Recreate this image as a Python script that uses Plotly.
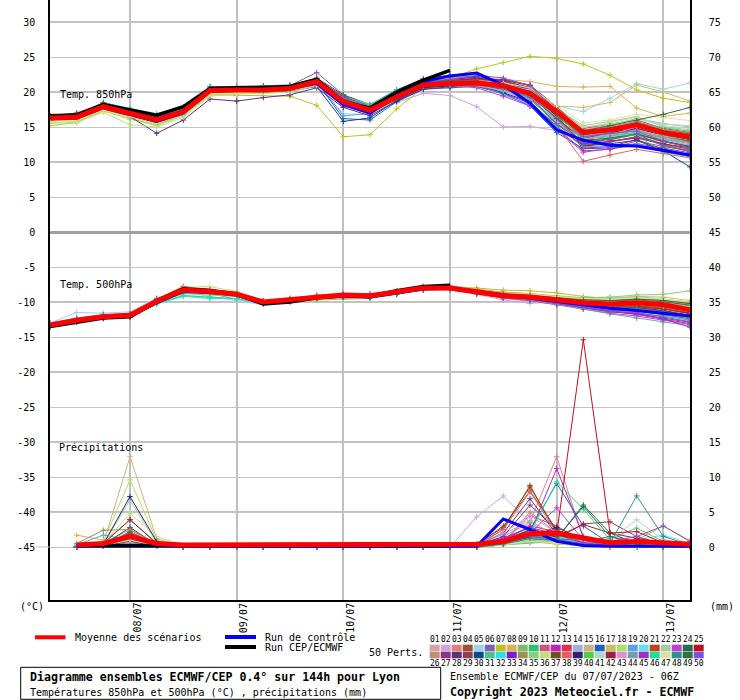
import plotly.graph_objects as go

# ---------------- data ----------------
HOURS = [0, 6, 12, 18, 24, 30, 36, 42, 48, 54, 60, 66, 72, 78, 84, 90, 96, 102, 108, 114, 120, 126, 132, 138, 144]
PRECIP_HOURS = [6, 12, 18, 24, 30, 36, 42, 48, 54, 60, 66, 72, 78, 84, 90, 96, 102, 108, 114, 120, 126, 132, 138, 144]
HRES_HOURS = [0, 6, 12, 18, 24, 30, 36, 42, 48, 54, 60, 66, 72, 78, 84, 90]
HRES_PRECIP_HOURS = [6, 12, 18, 24, 30, 36, 42, 48, 54, 60, 66, 72, 78, 84, 90]
DATE_TICKS = [18, 42, 66, 90, 114, 138]
DATE_LABELS = ["08/07", "09/07", "10/07", "11/07", "12/07", "13/07"]
LEFT_TICKS = [-45, -40, -35, -30, -25, -20, -15, -10, -5, 0, 5, 10, 15, 20, 25, 30]
RIGHT_TICKS = [0, 5, 10, 15, 20, 25, 30, 35, 40, 45, 50, 55, 60, 65, 70, 75]
THICK_GRID = [-40, -30, -20, -10, 10, 20, 30]

T850_MEAN = [16.3, 16.4, 17.9, 17.0, 16.0, 17.2, 20.2, 20.3, 20.3, 20.5, 21.5, 18.6, 17.4, 19.3, 21.0, 21.2,
             21.3, 20.9, 19.8, 17.2, 14.2, 14.6, 15.3, 14.2, 13.6]
T850_CONTROL = [16.2, 16.3, 17.8, 16.8, 15.8, 17.0, 20.1, 20.2, 20.3, 20.5, 21.2, 18.2, 17.0, 19.5, 21.5, 22.3,
                22.7, 21.0, 18.4, 14.6, 13.1, 12.4, 12.3, 11.7, 11.0]
T850_HRES = [16.6, 16.7, 18.2, 17.5, 16.7, 17.9, 20.5, 20.6, 20.6, 20.8, 21.8, 18.6, 17.7, 20.0, 21.7, 23.1]

T500_MEAN = [-13.3, -12.6, -12.1, -11.9, -9.9, -8.3, -8.5, -8.9, -10.0, -9.7, -9.3, -9.0, -9.1, -8.6, -8.0, -8.0,
             -8.6, -9.1, -9.3, -9.7, -10.1, -10.3, -10.1, -10.4, -11.1]
T500_CONTROL = [-13.3, -12.7, -12.2, -12.0, -10.1, -8.5, -8.6, -9.0, -10.1, -9.8, -9.4, -9.2, -9.3, -8.7, -8.1,
                -8.0, -8.5, -9.0, -9.4, -10.0, -10.5, -10.9, -11.2, -11.6, -12.0]
T500_HRES = [-13.5, -12.9, -12.3, -12.1, -10.0, -8.1, -8.4, -8.9, -10.3, -10.0, -9.4, -9.0, -9.2, -8.4, -7.8, -7.6]

PRECIP_MEAN = [0.3, 0.5, 1.5, 0.5, 0.3, 0.3, 0.3, 0.3, 0.3, 0.3, 0.3, 0.3, 0.3, 0.3, 0.3, 0.4, 0.8, 1.9, 2.0,
               1.3, 0.6, 0.8, 0.6, 0.4]
PRECIP_CONTROL = [0.1, 0.1, 0.1, 0.1, 0.1, 0.1, 0.1, 0.1, 0.1, 0.1, 0.1, 0.1, 0.1, 0.1, 0.1, 0.1, 4.0, 2.5, 0.8,
                  0.2, 0.1, 0.1, 0.1, 0.1]
PRECIP_HRES = [0.2, 0.2, 0.3, 0.2, 0.2, 0.2, 0.2, 0.2, 0.2, 0.2, 0.2, 0.2, 0.2, 0.2, 0.2]

MEMBER_COLORS = ['#d4a0a8', '#d0a0e0', '#e08080', '#a05030', '#a0d0f0', '#8060b0', '#c0c020', '#e0b050',
                 '#80b870', '#30c070', '#d05080', '#c020c0', '#e03050', '#a0b0e0', '#d0b080', '#2060c0',
                 '#c8c060', '#b0e060', '#60a0e0', '#60e0f0', '#c04020', '#a0d0a0', '#c040d0', '#207050',
                 '#c01020',
                 '#c09070', '#903080', '#603080', '#904050', '#104890', '#50c090', '#30e0e0', '#7020d0',
                 '#a09050', '#80d080', '#c0e080', '#705020', '#e06060', '#302070', '#50d040', '#b0d8c8',
                 '#a02040', '#e090d0', '#70a0b0', '#a030c0', '#20e090', '#e0e0a0', '#309090', '#307040',
                 '#8050e0']

T850_MEMBERS = [
    [16.0, 16.2, 17.6, 16.6, 15.7, 17.0, 20.0, 20.1, 20.0, 20.4, 21.2, 18.9, 17.8, 19.6, 21.3, 21.6, 21.0, 20.2, 18.6, 15.0, 12.2, 12.8, 13.5, 12.9, 12.3],
    [16.5, 16.6, 18.0, 17.1, 16.3, 17.5, 20.4, 20.5, 20.2, 20.6, 21.0, 18.0, 16.9, 18.5, 19.8, 19.5, 17.9, 15.0, 15.1, 14.5, 12.6, 13.1, 14.0, 13.2, 12.8],
    [16.2, 16.4, 18.1, 17.3, 16.4, 17.6, 20.6, 20.4, 20.5, 20.7, 21.8, 19.2, 18.0, 19.9, 21.5, 22.0, 21.8, 21.2, 19.6, 16.2, 13.5, 14.0, 14.5, 13.3, 12.6],
    [16.4, 16.9, 18.2, 17.2, 15.9, 17.1, 20.1, 20.2, 20.4, 20.3, 21.4, 18.4, 17.2, 19.0, 20.8, 21.0, 21.4, 21.0, 20.2, 17.0, 13.2, 13.8, 14.2, 13.0, 12.1],
    [16.1, 16.3, 17.7, 16.9, 16.1, 17.3, 20.3, 20.0, 19.8, 20.1, 21.0, 16.9, 16.8, 18.8, 20.5, 20.8, 21.2, 20.0, 19.0, 18.0, 17.2, 19.1, 21.2, 20.4, 21.3],
    [16.6, 16.8, 18.0, 17.1, 16.4, 17.4, 20.8, 20.6, 20.5, 20.9, 22.8, 19.6, 17.6, 19.4, 21.2, 21.5, 22.0, 21.6, 20.5, 17.5, 14.0, 14.8, 15.2, 14.0, 13.4],
    [15.2, 15.6, 17.3, 16.2, 15.3, 16.8, 19.6, 19.5, 19.5, 19.4, 18.1, 13.6, 13.9, 17.6, 20.6, 22.0, 23.3, 24.2, 25.1, 24.8, 24.0, 22.4, 20.3, 19.1, 18.5],
    [16.0, 16.1, 17.5, 16.8, 15.9, 17.0, 20.0, 20.3, 20.3, 20.6, 21.6, 18.8, 17.5, 19.2, 21.0, 21.4, 21.6, 21.8, 21.5, 20.8, 20.7, 20.8, 17.7, 16.5, 17.0],
    [16.5, 16.7, 18.3, 17.5, 16.8, 17.8, 20.4, 20.5, 20.8, 20.9, 21.9, 19.3, 18.0, 20.0, 21.6, 21.8, 21.5, 20.6, 19.2, 15.8, 12.8, 13.5, 15.8, 14.5, 14.1],
    [16.3, 16.5, 18.1, 17.3, 16.5, 17.6, 20.5, 20.6, 20.7, 20.6, 21.7, 19.0, 17.7, 19.6, 21.2, 21.4, 21.0, 20.4, 19.0, 15.5, 13.0, 13.2, 13.9, 12.5, 11.6],
    [16.2, 16.3, 17.8, 16.9, 15.8, 17.0, 20.2, 20.2, 20.1, 20.3, 21.2, 18.3, 17.1, 19.0, 20.9, 21.3, 21.7, 21.3, 20.4, 16.8, 13.5, 14.2, 14.6, 13.6, 12.9],
    [16.4, 16.5, 17.9, 17.0, 16.0, 17.3, 20.2, 20.4, 20.3, 20.5, 21.3, 18.5, 17.3, 19.4, 21.1, 21.2, 20.8, 19.8, 18.4, 14.8, 11.6, 11.8, 12.6, 12.0, 11.3],
    [16.1, 16.2, 17.7, 16.7, 15.6, 16.9, 19.9, 20.1, 20.2, 20.4, 21.4, 18.7, 17.6, 19.3, 21.0, 21.5, 21.9, 21.4, 20.7, 17.8, 14.8, 15.4, 16.0, 14.8, 14.2],
    [16.6, 16.7, 18.4, 17.6, 16.6, 17.7, 20.6, 20.4, 20.0, 20.2, 21.0, 18.2, 17.0, 19.1, 20.7, 21.0, 21.2, 20.8, 19.9, 16.6, 14.5, 15.3, 16.2, 15.5, 15.0],
    [16.0, 16.2, 17.6, 16.4, 15.5, 16.8, 19.8, 20.0, 20.1, 20.2, 21.1, 18.6, 17.4, 19.5, 21.0, 21.0, 21.2, 21.1, 20.2, 17.4, 14.2, 14.5, 15.0, 14.2, 13.9],
    [16.3, 16.4, 17.9, 17.0, 16.2, 17.3, 20.3, 20.5, 20.4, 20.6, 21.5, 16.2, 16.0, 18.6, 20.4, 20.6, 20.8, 19.8, 18.0, 14.2, 11.9, 12.0, 12.3, 11.9, 11.0],
    [16.2, 16.4, 17.8, 16.9, 15.9, 17.1, 20.1, 20.2, 20.2, 20.4, 21.2, 18.6, 17.4, 19.4, 21.0, 21.3, 21.5, 21.2, 20.3, 18.0, 17.8, 18.5, 21.0, 20.0, 18.7],
    [15.6, 15.8, 17.4, 16.1, 15.2, 16.6, 19.5, 19.8, 19.9, 20.1, 21.0, 18.5, 17.5, 19.6, 21.2, 21.6, 21.4, 20.5, 19.0, 15.4, 12.9, 13.4, 14.1, 13.1, 12.4],
    [16.4, 16.6, 18.0, 17.2, 16.3, 17.4, 20.4, 20.3, 20.2, 20.5, 21.6, 16.6, 16.9, 19.8, 21.4, 21.5, 21.1, 19.6, 18.2, 15.2, 13.6, 13.5, 14.0, 13.6, 12.8],
    [16.3, 16.5, 18.2, 17.4, 16.7, 17.6, 20.5, 20.6, 20.5, 20.8, 21.7, 19.1, 18.0, 19.5, 21.0, 21.2, 21.0, 20.1, 19.4, 16.4, 13.8, 14.4, 15.2, 14.2, 13.8],
    [16.5, 16.6, 18.1, 17.1, 16.0, 17.2, 20.3, 20.4, 20.6, 20.7, 21.8, 19.4, 18.1, 20.0, 21.8, 22.2, 22.0, 21.2, 19.8, 16.0, 12.4, 12.9, 13.6, 12.6, 11.8],
    [16.1, 16.3, 17.8, 17.0, 16.2, 17.3, 20.2, 20.1, 20.0, 20.3, 21.2, 18.3, 17.0, 19.0, 20.8, 21.1, 21.3, 21.0, 20.1, 17.6, 15.2, 15.8, 16.5, 15.0, 14.6],
    [16.4, 16.6, 18.0, 17.2, 16.2, 17.3, 20.2, 20.3, 20.4, 20.6, 21.4, 18.6, 17.3, 19.2, 20.9, 21.0, 20.6, 19.4, 18.0, 14.6, 11.4, 11.9, 13.0, 12.2, 11.7],
    [16.5, 16.7, 18.5, 17.6, 16.7, 17.8, 20.7, 20.8, 20.9, 21.0, 22.0, 19.6, 18.2, 20.3, 21.9, 22.4, 22.2, 21.6, 20.6, 17.0, 13.6, 14.0, 14.8, 13.8, 13.0],
    [16.2, 16.3, 17.7, 16.8, 15.8, 17.1, 20.1, 20.2, 20.3, 20.4, 21.3, 18.4, 17.2, 19.1, 20.8, 21.2, 21.4, 21.0, 19.8, 16.3, 12.2, 13.0, 13.4, 12.6, 12.0],
    [16.4, 16.5, 17.9, 17.1, 16.1, 17.2, 20.2, 20.3, 20.5, 20.8, 21.6, 18.8, 17.6, 19.5, 21.1, 21.3, 21.2, 20.7, 19.5, 16.1, 13.4, 13.9, 14.5, 13.4, 12.8],
    [16.3, 16.4, 18.0, 17.0, 15.9, 17.0, 20.0, 20.1, 20.2, 20.5, 21.5, 18.2, 16.9, 19.0, 20.6, 20.9, 21.0, 20.3, 19.0, 15.6, 12.0, 12.2, 13.2, 11.8, 10.9],
    [16.6, 16.8, 17.8, 16.5, 14.1, 16.0, 19.0, 18.7, 19.2, 19.6, 20.6, 17.8, 16.6, 18.7, 20.4, 20.8, 21.1, 20.6, 19.7, 16.7, 13.9, 14.6, 15.1, 14.0, 13.4],
    [16.2, 16.3, 17.8, 17.0, 16.1, 17.2, 20.3, 20.4, 20.5, 20.6, 21.8, 19.0, 17.8, 19.7, 21.4, 21.6, 21.9, 21.8, 21.0, 17.9, 14.3, 14.9, 15.6, 14.6, 14.0],
    [16.0, 16.1, 17.5, 16.6, 15.6, 16.9, 20.0, 20.1, 20.0, 20.1, 20.8, 15.8, 16.3, 18.8, 20.6, 20.9, 21.0, 19.9, 18.6, 15.1, 12.3, 12.6, 13.1, 11.6, 9.3],
    [16.3, 16.5, 18.1, 17.4, 16.6, 17.5, 20.4, 20.5, 20.4, 20.6, 21.6, 19.0, 17.7, 19.5, 21.1, 21.3, 21.2, 20.8, 19.8, 16.9, 14.1, 14.9, 15.7, 14.9, 14.4],
    [16.5, 16.7, 18.4, 17.7, 16.9, 17.9, 20.6, 20.7, 20.6, 20.8, 21.6, 19.3, 18.2, 20.2, 21.6, 21.7, 21.4, 20.6, 19.2, 15.9, 13.3, 13.7, 14.2, 13.2, 12.4],
    [16.3, 16.4, 17.9, 17.1, 16.2, 17.4, 20.3, 20.4, 20.3, 20.4, 21.4, 18.6, 17.3, 19.3, 21.2, 21.8, 22.1, 21.5, 20.3, 16.5, 12.6, 13.3, 14.0, 13.0, 12.2],
    [16.1, 16.4, 17.8, 16.7, 15.6, 16.8, 19.9, 20.0, 20.2, 20.3, 21.1, 18.5, 17.4, 19.4, 20.9, 21.1, 21.3, 20.9, 19.9, 17.1, 14.6, 15.1, 15.8, 14.6, 14.2],
    [16.2, 16.4, 17.9, 17.0, 16.0, 17.2, 20.2, 20.3, 20.4, 20.6, 21.5, 18.7, 17.5, 19.4, 21.0, 21.1, 20.9, 20.2, 19.1, 15.7, 12.9, 13.6, 14.6, 13.7, 13.2],
    [15.5, 15.7, 17.1, 15.3, 15.0, 16.4, 19.4, 19.7, 19.8, 20.0, 20.9, 18.4, 17.2, 19.2, 20.8, 21.0, 21.2, 20.9, 20.0, 17.2, 14.9, 15.6, 16.4, 15.2, 14.8],
    [16.6, 17.0, 18.4, 17.3, 16.1, 17.3, 20.3, 20.3, 20.2, 20.4, 21.4, 18.9, 17.7, 19.8, 21.3, 21.3, 21.0, 20.4, 19.4, 16.3, 13.1, 13.4, 14.0, 12.9, 12.2],
    [16.4, 16.6, 18.0, 17.1, 16.1, 17.4, 20.4, 20.5, 20.5, 20.7, 21.7, 19.2, 17.9, 19.9, 21.5, 21.8, 21.6, 20.7, 19.3, 15.3, 10.1, 11.0, 11.8, 11.2, 10.6],
    [16.2, 16.3, 17.7, 16.8, 15.7, 17.0, 20.1, 20.2, 20.2, 20.4, 21.2, 18.3, 17.1, 19.0, 20.7, 21.0, 21.2, 20.8, 19.7, 16.6, 13.6, 14.2, 14.8, 13.9, 13.5],
    [16.3, 16.6, 18.1, 17.3, 16.4, 17.5, 20.4, 20.5, 20.6, 20.7, 21.6, 19.0, 17.8, 19.7, 21.3, 21.5, 21.3, 20.6, 19.6, 16.4, 13.8, 13.9, 13.8, 11.4, 10.8],
    [16.4, 16.5, 18.0, 17.2, 16.3, 17.4, 20.3, 20.4, 20.3, 20.5, 21.4, 18.7, 17.4, 19.3, 20.9, 21.1, 21.2, 20.9, 20.3, 17.4, 15.0, 15.4, 16.0, 15.4, 15.2],
    [16.5, 16.7, 18.2, 17.4, 16.4, 17.5, 20.4, 20.5, 20.6, 20.7, 21.9, 19.3, 17.9, 19.8, 21.4, 21.7, 21.9, 21.7, 20.9, 17.4, 13.3, 14.3, 14.8, 13.9, 13.2],
    [16.2, 16.4, 17.9, 17.0, 16.0, 17.1, 20.1, 20.3, 20.2, 20.4, 21.3, 18.6, 17.5, 19.4, 21.0, 21.2, 21.0, 20.2, 19.0, 15.7, 13.3, 13.9, 15.0, 13.9, 13.5],
    [16.1, 16.3, 17.7, 16.8, 15.8, 17.0, 20.0, 20.1, 20.2, 20.4, 21.3, 18.5, 17.4, 19.2, 20.8, 21.1, 21.3, 20.8, 19.6, 15.0, 12.2, 12.3, 12.6, 11.6, 10.7],
    [16.4, 16.5, 18.0, 17.1, 16.2, 17.4, 20.3, 20.4, 20.4, 20.6, 21.5, 18.7, 17.5, 19.5, 21.2, 21.4, 21.3, 20.7, 19.5, 16.2, 12.6, 12.9, 13.6, 12.4, 11.5],
    [16.3, 16.5, 18.2, 17.4, 16.6, 17.6, 20.5, 20.6, 20.6, 20.8, 21.7, 19.2, 17.9, 19.8, 21.4, 21.5, 21.4, 20.8, 19.8, 16.8, 13.5, 14.3, 15.3, 14.4, 13.7],
    [15.8, 16.0, 17.4, 16.5, 15.5, 16.9, 19.8, 19.9, 20.0, 20.2, 21.0, 18.4, 17.3, 19.3, 21.0, 21.4, 21.6, 21.3, 20.6, 18.0, 15.6, 16.0, 16.8, 16.3, 15.9],
    [16.3, 16.4, 17.9, 17.0, 16.0, 17.2, 20.2, 20.3, 20.2, 20.4, 21.3, 18.5, 17.3, 19.2, 20.8, 21.0, 21.1, 20.5, 19.2, 15.5, 12.8, 13.3, 14.0, 12.3, 11.5],
    [16.5, 16.6, 18.2, 17.2, 16.2, 17.4, 20.4, 20.5, 20.5, 20.6, 21.6, 19.0, 17.7, 19.6, 21.3, 21.6, 21.6, 21.0, 20.0, 16.8, 14.4, 15.2, 15.9, 16.8, 17.8],
    [16.4, 16.6, 18.0, 17.2, 16.3, 17.4, 20.4, 20.5, 20.7, 20.8, 21.9, 19.2, 17.8, 19.7, 21.4, 21.8, 22.4, 22.0, 20.9, 17.3, 13.6, 14.1, 14.4, 13.0, 12.0],
]

T500_MEMBERS = [
    [-13.1, -12.4, -12.0, -11.7, -9.8, -8.2, -8.4, -8.8, -9.9, -9.6, -9.2, -8.9, -9.0, -8.5, -7.9, -8.1, -8.8, -9.5, -9.9, -10.4, -10.8, -11.2, -11.0, -11.6, -12.2],
    [-13.5, -12.8, -12.3, -12.1, -10.2, -8.6, -8.7, -9.1, -10.2, -9.9, -9.5, -9.1, -9.2, -8.7, -8.2, -8.3, -8.9, -9.7, -10.2, -10.0, -10.3, -10.9, -11.4, -11.8, -12.6],
    [-13.2, -12.5, -12.1, -11.8, -9.7, -8.0, -8.3, -8.7, -9.8, -9.5, -9.0, -8.8, -8.9, -8.4, -7.8, -7.7, -8.2, -8.6, -8.8, -9.2, -9.6, -9.8, -9.7, -10.0, -10.6],
    [-13.4, -12.7, -12.2, -12.0, -10.0, -8.4, -8.6, -9.0, -10.1, -9.8, -9.4, -9.1, -9.2, -8.7, -8.1, -8.0, -8.5, -9.0, -9.2, -9.6, -10.0, -10.2, -10.0, -10.4, -11.0],
    [-13.0, -11.5, -11.6, -11.4, -9.4, -8.6, -9.2, -9.8, -10.4, -10.0, -9.6, -9.2, -9.3, -8.8, -8.3, -8.2, -8.7, -9.2, -9.4, -9.4, -9.5, -9.4, -9.2, -9.6, -10.2],
    [-13.3, -12.6, -12.0, -11.9, -9.9, -8.3, -8.5, -8.9, -10.0, -9.7, -9.3, -9.0, -9.1, -8.6, -8.0, -8.0, -8.6, -9.1, -9.3, -9.8, -10.2, -10.6, -10.8, -11.3, -11.9],
    [-13.6, -12.9, -12.4, -12.2, -10.1, -8.5, -8.7, -9.2, -10.3, -10.0, -9.7, -9.6, -9.5, -8.9, -8.2, -7.9, -8.0, -8.3, -8.4, -8.7, -9.2, -9.5, -9.4, -9.6, -10.0],
    [-13.2, -12.5, -12.1, -11.9, -9.9, -8.3, -8.5, -8.9, -10.0, -9.7, -9.3, -9.0, -9.0, -8.5, -7.9, -7.8, -8.3, -8.6, -8.8, -9.1, -9.4, -9.7, -9.9, -10.3, -10.8],
    [-13.3, -12.6, -12.2, -12.0, -9.8, -8.1, -8.3, -8.7, -9.9, -9.6, -9.2, -8.9, -9.1, -8.6, -8.0, -8.0, -8.7, -9.2, -9.6, -10.0, -10.4, -10.5, -10.3, -10.2, -10.6],
    [-13.4, -12.6, -12.1, -11.8, -9.9, -8.2, -8.4, -8.8, -9.9, -9.6, -9.3, -9.1, -9.3, -8.8, -8.2, -8.2, -8.8, -9.4, -9.8, -10.3, -10.9, -11.4, -11.6, -12.0, -12.6],
    [-13.2, -12.5, -12.0, -11.8, -9.8, -8.3, -8.5, -9.0, -10.1, -9.8, -9.3, -8.9, -9.0, -8.5, -7.9, -7.9, -8.4, -8.9, -9.1, -9.5, -9.9, -10.1, -9.9, -10.2, -10.8],
    [-13.3, -12.7, -12.2, -12.0, -10.0, -8.4, -8.6, -9.0, -10.0, -9.7, -9.4, -9.1, -9.2, -8.7, -8.1, -8.1, -8.7, -9.3, -9.6, -10.2, -10.7, -11.3, -11.8, -12.5, -13.1],
    [-13.1, -12.4, -11.9, -11.7, -9.6, -8.0, -8.2, -8.7, -9.9, -9.6, -9.2, -8.9, -8.9, -8.4, -7.8, -7.8, -8.3, -8.8, -9.0, -9.4, -9.8, -10.0, -9.8, -10.0, -10.5],
    [-13.4, -12.7, -12.2, -12.0, -10.1, -8.5, -8.7, -9.0, -10.1, -9.8, -9.4, -9.0, -9.1, -8.6, -8.0, -8.1, -8.6, -9.1, -9.3, -9.6, -10.0, -10.2, -10.1, -10.5, -11.2],
    [-13.5, -12.8, -12.3, -12.1, -10.1, -8.4, -8.5, -8.9, -10.0, -9.7, -9.3, -9.0, -9.1, -8.6, -8.0, -8.0, -8.5, -8.9, -9.1, -9.5, -9.8, -10.0, -9.8, -10.1, -10.7],
    [-13.2, -12.5, -12.0, -11.8, -9.8, -8.2, -8.5, -9.0, -10.1, -9.8, -9.5, -9.3, -9.4, -8.9, -8.3, -8.2, -8.8, -9.4, -9.7, -10.3, -10.8, -11.2, -11.3, -11.8, -12.4],
    [-13.3, -12.6, -12.1, -11.9, -9.9, -8.3, -8.5, -8.9, -10.0, -9.7, -9.3, -9.0, -9.1, -8.6, -8.0, -8.0, -8.5, -8.9, -9.0, -9.3, -9.5, -9.6, -9.2, -9.3, -9.8],
    [-13.5, -12.7, -12.2, -12.1, -10.2, -8.6, -8.4, -8.8, -9.9, -9.7, -9.3, -9.0, -9.1, -8.5, -7.9, -8.0, -8.6, -9.1, -9.4, -9.8, -10.2, -10.4, -10.3, -10.7, -11.4],
    [-13.0, -12.3, -11.8, -11.6, -9.6, -8.4, -8.8, -9.6, -10.2, -9.9, -9.4, -9.1, -9.1, -8.6, -8.1, -8.1, -8.7, -9.2, -9.4, -9.9, -10.3, -10.6, -10.5, -10.8, -11.5],
    [-13.4, -12.7, -12.2, -12.0, -10.2, -9.0, -9.4, -9.6, -10.2, -9.8, -9.4, -9.1, -9.2, -8.7, -8.1, -8.1, -8.6, -9.1, -9.3, -9.7, -10.1, -10.3, -10.1, -10.4, -11.1],
    [-13.2, -12.5, -12.0, -11.7, -9.7, -8.0, -8.2, -8.6, -9.8, -9.5, -9.1, -8.8, -8.9, -8.4, -7.8, -7.8, -8.4, -8.9, -9.2, -9.7, -10.2, -10.5, -10.5, -10.9, -11.6],
    [-13.3, -12.6, -12.1, -11.9, -9.9, -8.3, -8.5, -8.9, -10.0, -9.7, -9.3, -9.0, -9.1, -8.6, -8.0, -8.0, -8.6, -9.0, -9.1, -9.4, -9.7, -9.8, -9.5, -9.7, -10.2],
    [-13.4, -12.7, -12.2, -12.0, -10.0, -8.4, -8.6, -9.0, -10.1, -9.8, -9.4, -9.1, -9.2, -8.7, -8.1, -8.1, -8.8, -9.4, -9.8, -10.4, -11.0, -11.6, -12.0, -12.6, -13.2],
    [-13.1, -12.4, -11.9, -11.8, -9.8, -8.2, -8.4, -8.8, -9.9, -9.6, -9.2, -8.9, -9.0, -8.5, -7.9, -7.9, -8.4, -8.9, -9.1, -9.5, -9.9, -10.1, -10.0, -10.3, -10.9],
    [-13.3, -12.6, -12.1, -11.9, -9.6, -7.8, -8.2, -8.8, -10.0, -9.7, -9.3, -9.0, -9.1, -8.6, -8.0, -8.0, -8.6, -9.1, -9.4, -9.9, -10.5, -10.8, -10.7, -11.0, -11.6],
    [-13.6, -12.9, -12.3, -12.1, -10.0, -8.3, -8.4, -8.9, -10.1, -9.8, -9.4, -9.0, -9.1, -8.6, -8.0, -8.0, -8.5, -9.0, -9.2, -9.6, -10.0, -10.2, -10.0, -10.3, -10.9],
    [-13.2, -12.5, -12.0, -11.8, -9.8, -8.2, -8.4, -8.8, -9.9, -9.6, -9.2, -8.9, -9.0, -8.5, -7.9, -8.0, -8.7, -9.3, -9.7, -10.3, -10.9, -11.4, -11.7, -12.3, -12.9],
    [-13.4, -12.7, -12.2, -12.0, -10.1, -8.6, -8.8, -9.1, -10.1, -9.8, -9.4, -9.1, -9.2, -8.7, -8.1, -8.1, -8.6, -9.1, -9.3, -9.7, -10.1, -10.4, -10.2, -10.5, -11.2],
    [-13.3, -12.6, -12.1, -11.9, -9.9, -8.2, -8.4, -8.8, -9.9, -9.6, -9.2, -8.9, -9.0, -8.5, -7.9, -7.9, -8.4, -8.8, -9.0, -9.4, -9.8, -9.9, -9.7, -10.0, -10.4],
    [-13.5, -12.8, -12.3, -12.1, -10.1, -8.5, -8.7, -9.1, -10.2, -9.9, -9.5, -9.2, -9.3, -8.8, -8.2, -8.2, -8.8, -9.3, -9.6, -10.1, -10.6, -11.0, -11.1, -11.5, -12.2],
    [-13.2, -12.5, -12.0, -11.8, -9.8, -8.2, -8.4, -8.8, -9.9, -9.6, -9.2, -8.9, -9.0, -8.5, -7.9, -7.9, -8.5, -9.0, -9.2, -9.6, -10.0, -10.2, -10.0, -10.3, -10.8],
    [-13.4, -12.7, -12.2, -12.0, -10.3, -9.2, -9.5, -9.5, -10.1, -9.8, -9.4, -9.1, -9.2, -8.7, -8.1, -8.1, -8.6, -9.1, -9.3, -9.7, -10.1, -10.3, -10.2, -10.5, -11.1],
    [-13.3, -12.6, -12.1, -11.9, -9.9, -8.3, -8.5, -8.9, -10.0, -9.7, -9.3, -9.0, -9.1, -8.6, -8.0, -8.0, -8.7, -9.3, -9.6, -10.1, -10.6, -10.9, -10.9, -11.3, -12.0],
    [-13.2, -12.5, -12.0, -11.8, -9.8, -8.2, -8.4, -8.8, -9.9, -9.6, -9.2, -8.9, -9.0, -8.5, -7.9, -7.9, -8.4, -8.9, -9.1, -9.4, -9.7, -9.8, -9.6, -9.8, -10.3],
    [-13.3, -12.6, -12.1, -11.9, -10.0, -8.8, -9.0, -9.2, -10.0, -9.7, -9.3, -9.0, -9.1, -8.6, -8.0, -8.0, -8.5, -8.9, -9.0, -9.2, -9.4, -9.3, -9.0, -8.9, -8.4],
    [-13.4, -12.7, -12.2, -12.0, -9.9, -7.9, -7.8, -8.5, -9.9, -9.6, -9.2, -8.9, -9.0, -8.5, -7.9, -7.9, -8.4, -8.9, -9.2, -9.6, -10.0, -10.2, -10.0, -10.3, -10.9],
    [-13.3, -12.6, -12.1, -11.9, -9.9, -8.3, -8.5, -8.9, -10.0, -9.7, -9.3, -9.0, -9.1, -8.6, -8.0, -8.0, -8.6, -9.1, -9.4, -9.8, -10.3, -10.6, -10.6, -11.0, -11.7],
    [-13.2, -12.5, -12.0, -11.8, -9.8, -8.2, -8.4, -8.8, -9.9, -9.6, -9.2, -8.9, -9.0, -8.5, -7.9, -7.9, -8.5, -9.1, -9.5, -10.1, -10.7, -11.1, -11.2, -11.6, -12.3],
    [-13.5, -12.8, -12.3, -12.1, -10.1, -8.5, -8.6, -9.0, -10.1, -9.8, -9.4, -9.1, -9.2, -8.7, -8.1, -8.1, -8.6, -9.0, -9.2, -9.6, -10.0, -10.2, -10.1, -10.4, -11.0],
    [-13.3, -12.6, -12.1, -11.9, -9.9, -8.3, -8.5, -8.9, -10.0, -9.7, -9.3, -9.0, -9.1, -8.6, -8.0, -8.0, -8.5, -8.9, -9.1, -9.5, -9.9, -10.0, -9.8, -10.1, -10.6],
    [-13.2, -12.5, -12.0, -11.8, -9.8, -8.2, -8.4, -8.8, -9.9, -9.6, -9.2, -8.9, -9.0, -8.5, -7.9, -7.9, -8.5, -9.0, -9.2, -9.5, -9.8, -10.0, -9.9, -10.2, -10.7],
    [-13.4, -12.7, -12.2, -12.0, -10.0, -8.4, -8.6, -9.0, -10.1, -9.8, -9.4, -9.1, -9.2, -8.7, -8.1, -8.1, -8.7, -9.2, -9.5, -10.0, -10.5, -10.8, -10.8, -11.2, -11.9],
    [-13.3, -12.6, -12.1, -11.9, -9.9, -8.3, -8.5, -8.9, -10.0, -9.7, -9.3, -9.0, -9.1, -8.6, -8.0, -8.0, -8.5, -9.0, -9.2, -9.6, -10.0, -10.3, -10.2, -10.6, -11.2],
    [-13.2, -12.5, -12.0, -11.8, -9.9, -8.4, -8.6, -9.0, -10.1, -9.8, -9.4, -9.1, -9.2, -8.7, -8.1, -8.1, -8.7, -9.3, -9.7, -10.3, -11.0, -11.7, -12.3, -12.9, -13.4],
    [-13.4, -12.7, -12.2, -12.0, -10.0, -8.4, -8.6, -9.0, -10.1, -9.8, -9.4, -9.1, -9.2, -8.7, -8.1, -8.1, -8.7, -9.2, -9.6, -10.2, -10.8, -11.3, -11.6, -12.4, -13.6],
    [-13.3, -12.6, -12.1, -11.9, -10.2, -9.1, -9.3, -9.5, -10.1, -9.8, -9.4, -9.1, -9.2, -8.7, -8.1, -8.1, -8.6, -9.1, -9.3, -9.7, -10.1, -10.3, -10.2, -10.5, -11.1],
    [-13.2, -12.5, -12.0, -11.8, -9.8, -8.2, -8.4, -8.8, -9.9, -9.6, -9.2, -8.9, -9.0, -8.5, -7.9, -7.9, -8.4, -8.8, -8.9, -9.2, -9.5, -9.6, -9.4, -9.6, -10.0],
    [-13.4, -12.7, -12.2, -12.0, -10.0, -8.4, -8.6, -9.0, -10.1, -9.8, -9.4, -9.1, -9.2, -8.7, -8.1, -8.1, -8.7, -9.2, -9.5, -10.0, -10.5, -10.8, -10.9, -11.4, -12.1],
    [-13.3, -12.6, -12.1, -11.9, -9.9, -8.3, -8.5, -8.9, -10.0, -9.7, -9.3, -9.0, -9.1, -8.6, -8.0, -8.0, -8.5, -8.9, -9.1, -9.4, -9.7, -9.8, -9.6, -9.8, -10.2],
    [-13.2, -12.5, -12.0, -11.8, -9.8, -8.2, -8.4, -8.8, -9.9, -9.6, -9.2, -8.9, -9.0, -8.5, -7.9, -7.9, -8.6, -9.2, -9.6, -10.2, -10.8, -11.3, -11.5, -12.2, -12.8],
]

PRECIP_MEMBERS = [
    [0, 0.3, 1.2, 0.3, 0, 0, 0, 0, 0, 0, 0, 0, 0, 0, 0, 0, 0.5, 1.5, 2.0, 0.5, 0.2, 0, 0, 0],
    [0, 0.2, 0.8, 0.2, 0, 0, 0, 0, 0, 0, 0, 0, 0, 0, 0, 4.3, 7.3, 3.5, 1.5, 0.5, 0.3, 0, 0, 0],
    [0, 0.4, 1.8, 0.4, 0, 0, 0, 0, 0, 0, 0, 0, 0, 0, 0, 0.3, 1.5, 3.5, 12.9, 1.2, 0.3, 0, 0, 0],
    [0, 0.2, 2.0, 0.5, 0, 0, 0, 0, 0, 0, 0, 0, 0, 0, 0, 0.2, 2.5, 8.8, 2.0, 0.5, 0, 0, 0, 0],
    [0.2, 0.5, 1.5, 0.3, 0, 0, 0, 0, 0, 0, 0, 0, 0, 0, 0, 0, 0.5, 2.2, 1.8, 0.6, 0.2, 0.3, 0.2, 0],
    [0, 0.3, 1.0, 0.2, 0, 0, 0, 0, 0, 0, 0, 0, 0, 0, 0, 0.2, 1.0, 2.5, 1.5, 0.8, 1.5, 0.8, 0.5, 0.2],
    [0.1, 0.2, 0.6, 0.1, 0, 0, 0, 0, 0, 0, 0, 0, 0, 0, 0, 0, 0.3, 0.8, 0.4, 0.2, 0.5, 1.0, 3.0, 0.9],
    [1.7, 1.0, 1.5, 0.3, 0, 0, 0, 0, 0, 0, 0, 0, 0, 0, 0, 0, 0.4, 1.2, 0.6, 0.3, 0, 0, 0, 0],
    [0, 0.3, 1.3, 0.4, 0.1, 0, 0, 0, 0, 0, 0, 0, 0, 0, 0, 0.2, 0.8, 1.6, 1.0, 0.8, 1.2, 2.7, 0.8, 0.2],
    [0, 0.6, 3.9, 0.6, 0, 0, 0, 0, 0, 0, 0, 0, 0, 0, 0, 0, 0.6, 1.4, 1.0, 0.4, 0, 0, 0, 0],
    [0, 0.2, 1.6, 0.2, 0, 0, 0, 0, 0, 0, 0, 0, 0, 0, 0, 0, 0.7, 4.5, 3.0, 0.8, 0.3, 0, 0, 0],
    [0, 0.3, 1.1, 0.3, 0, 0, 0, 0, 0, 0, 0, 0, 0, 0, 0, 0.3, 1.2, 2.0, 11.2, 1.5, 0.4, 0, 0, 0],
    [0, 0.2, 2.2, 0.4, 0, 0, 0, 0, 0, 0, 0, 0, 0, 0, 0, 0, 0.9, 3.0, 2.2, 0.5, 0, 0, 0, 0],
    [0, 0.4, 1.4, 0.2, 0, 0, 0, 0, 0, 0, 0, 0, 0, 0, 0, 0.3, 1.8, 3.8, 1.5, 0.6, 0.2, 0, 0, 0],
    [0, 0.5, 12.9, 1.2, 0, 0, 0, 0, 0, 0, 0, 0, 0, 0, 0, 0, 0.3, 1.0, 0.5, 0.2, 0, 0, 0, 0],
    [0, 0.2, 0.8, 0.1, 0, 0, 0, 0, 0, 0, 0, 0, 0, 0, 0, 0.2, 1.0, 2.4, 9.1, 3.0, 0.5, 0, 0, 0],
    [0, 0.3, 1.9, 0.3, 0, 0, 0, 0, 0, 0, 0, 0, 0, 0, 0, 0, 0.5, 1.0, 2.2, 1.0, 0.3, 0.2, 0, 0],
    [0, 0.8, 9.6, 1.0, 0, 0, 0, 0, 0, 0, 0, 0, 0, 0, 0, 0, 0.4, 1.2, 0.8, 0.2, 0, 0, 0, 0],
    [0.3, 1.7, 1.0, 0.3, 0, 0, 0, 0, 0, 0, 0, 0, 0, 0, 0, 0.1, 0.8, 1.5, 1.2, 0.5, 0.4, 0.6, 0.3, 0],
    [0, 0.3, 1.2, 0.3, 0, 0, 0, 0, 0, 0, 0, 0, 0, 0, 0, 0, 0.6, 1.8, 1.5, 0.6, 0.5, 1.0, 1.7, 0.5],
    [0, 0.2, 1.5, 0.3, 0, 0, 0, 0, 0, 0, 0, 0, 0, 0, 0, 0.3, 3.0, 8.0, 2.5, 0.4, 0, 0, 0, 0],
    [0, 0.4, 6.7, 0.6, 0, 0, 0, 0, 0, 0, 0, 0, 0, 0, 0, 0, 0.5, 1.5, 0.8, 0.3, 0, 0, 0, 0],
    [0, 0.2, 1.0, 0.2, 0, 0, 0, 0, 0, 0, 0, 0, 0, 0, 0, 0.2, 0.9, 2.0, 5.6, 1.0, 0.2, 0, 0, 0],
    [0, 0.3, 1.4, 0.3, 0, 0, 0, 0, 0, 0, 0, 0, 0, 0, 0, 0, 0.4, 1.5, 1.2, 6.0, 2.0, 0.5, 0, 0],
    [0, 0.5, 3.9, 0.5, 0, 0, 0, 0, 0, 0, 0, 0, 0, 0, 0, 0, 0.3, 0.8, 1.8, 29.6, 2.0, 1.2, 0.5, 0],
    [0, 0.4, 2.5, 0.4, 0, 0, 0, 0, 0, 0, 0, 0, 0, 0, 0, 0, 0.6, 5.0, 2.0, 0.5, 0, 0, 0, 0],
    [0, 0.3, 1.2, 0.3, 0, 0, 0, 0, 0, 0, 0, 0, 0, 0, 0, 0.2, 1.5, 6.0, 2.5, 0.6, 0, 0, 0, 0],
    [0, 0.2, 1.8, 0.2, 0, 0, 0, 0, 0, 0, 0, 0, 0, 0, 0, 0.3, 2.0, 6.9, 1.8, 0.4, 0, 0, 0, 0],
    [0, 0.3, 1.6, 0.4, 0, 0, 0, 0, 0, 0, 0, 0, 0, 0, 0, 0, 0.5, 1.0, 1.2, 3.3, 3.6, 1.5, 0.4, 0],
    [0, 0.3, 2.8, 0.3, 0, 0, 0, 0, 0, 0, 0, 0, 0, 0, 0, 0, 0.5, 1.2, 0.8, 0.2, 0, 0, 0, 0],
    [0, 0.2, 1.3, 0.2, 0, 0, 0, 0, 0, 0, 0, 0, 0, 0, 0, 0, 0.4, 1.3, 1.6, 0.7, 0.2, 0, 0, 0],
    [0, 0.3, 1.5, 0.3, 0, 0, 0, 0, 0, 0, 0, 0, 0, 0, 0, 0, 0.8, 2.0, 1.5, 0.6, 0.3, 0.3, 0.5, 0.2],
    [0, 0.2, 1.2, 0.2, 0, 0, 0, 0, 0, 0, 0, 0, 0, 0, 0, 0.2, 1.2, 2.8, 1.3, 0.5, 0.2, 0.5, 1.0, 0.3],
    [0.5, 2.4, 2.5, 0.5, 0, 0, 0, 0, 0, 0, 0, 0, 0, 0, 0, 0, 0.4, 1.8, 1.0, 0.3, 0, 0, 0, 0],
    [0, 0.3, 1.7, 0.3, 0, 0, 0, 0, 0, 0, 0, 0, 0, 0, 0, 0, 0.3, 1.1, 1.3, 0.5, 0.2, 0, 0, 0],
    [0, 0.5, 4.8, 1.5, 0.2, 0, 0, 0, 0, 0, 0, 0, 0, 0, 0, 0, 0.3, 0.8, 0.5, 0.2, 0, 0, 0, 0],
    [0, 0.3, 2.0, 0.4, 0, 0, 0, 0, 0, 0, 0, 0, 0, 0, 0, 0.4, 2.8, 8.6, 2.2, 0.5, 0, 0, 0, 0],
    [0, 0.2, 1.4, 0.3, 0, 0, 0, 0, 0, 0, 0, 0, 0, 0, 0, 0.3, 2.5, 7.9, 2.0, 0.6, 0, 0, 0, 0],
    [0, 0.4, 7.2, 0.8, 0, 0, 0, 0, 0, 0, 0, 0, 0, 0, 0, 0, 0.4, 1.4, 2.8, 1.0, 0, 0, 0, 0],
    [0, 0.3, 1.2, 0.3, 0, 0, 0, 0, 0, 0, 0, 0, 0, 0, 0, 0, 0.3, 0.6, 0.8, 0.5, 0.3, 0.2, 0, 0],
    [0, 0.2, 1.1, 0.2, 0, 0, 0, 0, 0, 0, 0, 0, 0, 0, 0, 0, 0.4, 1.0, 0.8, 0.5, 1.0, 3.9, 1.0, 0.2],
    [0, 0.3, 1.5, 0.3, 0, 0, 0, 0, 0, 0, 0, 0, 0, 0, 0, 0, 0.6, 2.5, 1.5, 3.2, 2.0, 2.2, 0.6, 0],
    [0, 0.2, 1.3, 0.3, 0, 0, 0, 0, 0, 0, 0, 0, 0, 0, 0, 0.4, 2.0, 4.5, 2.0, 0.8, 0, 0, 0, 0],
    [0, 0.3, 1.0, 0.2, 0, 0, 0, 0, 0, 0, 0, 0, 0, 0, 0, 0, 0.5, 1.2, 2.0, 1.0, 0.3, 0.2, 0, 0],
    [0, 0.2, 1.4, 0.3, 0, 0, 0, 0, 0, 0, 0, 0, 0, 0, 0, 0.2, 1.3, 2.8, 1.8, 0.6, 0.2, 0, 0, 0],
    [0, 0.3, 1.6, 0.3, 0, 0, 0, 0, 0, 0, 0, 0, 0, 0, 0, 0.2, 1.0, 2.0, 9.3, 5.4, 1.0, 0.3, 0, 0],
    [0, 0.2, 1.0, 0.2, 0, 0, 0, 0, 0, 0, 0, 0, 0, 0, 0, 0, 0.3, 0.8, 0.6, 0.2, 0, 0, 0, 0],
    [0, 0.2, 1.5, 0.3, 0, 0, 0, 0, 0, 0, 0, 0, 0, 0, 0, 0, 0.4, 1.2, 1.0, 1.2, 0.5, 7.3, 1.5, 0.3],
    [0, 0.3, 1.8, 0.3, 0, 0, 0, 0, 0, 0, 0, 0, 0, 0, 0, 0, 0.5, 1.5, 1.2, 5.8, 1.5, 0.4, 0, 0],
    [0, 0.2, 1.3, 0.3, 0, 0, 0, 0, 0, 0, 0, 0, 0, 0, 0, 0.2, 1.0, 1.6, 1.0, 0.5, 0.8, 1.5, 3.0, 0.8],
]

# ---------------- layout helpers ----------------
W, H = 740, 700
ML, MR, MT, MB = 50, 50, 0, 100
PW, PH = W - ML - MR, H - MT - MB
Y_MIN, Y_MAX = -52.571, 33.143
PRECIP_OFFSET = 45
FONT = "DejaVu Sans Mono"


def px(x):
    return (x - ML) / PW


def py(y):
    return (H - MB - y) / PH


fig = go.Figure()

for i, col in enumerate(MEMBER_COLORS):
    mk = dict(symbol="cross-thin", size=4, line=dict(width=1, color=col), color=col)
    fig.add_trace(go.Scatter(x=HOURS, y=T850_MEMBERS[i], mode="lines+markers",
                             line=dict(color=col, width=1), marker=mk, yaxis="y"))
    fig.add_trace(go.Scatter(x=HOURS, y=T500_MEMBERS[i], mode="lines+markers",
                             line=dict(color=col, width=1), marker=mk, yaxis="y"))

for i, col in enumerate(MEMBER_COLORS):
    mk = dict(symbol="cross-thin", size=4, line=dict(width=1, color=col), color=col)
    fig.add_trace(go.Scatter(x=PRECIP_HOURS, y=PRECIP_MEMBERS[i], mode="lines+markers",
                             line=dict(color=col, width=1), marker=mk, yaxis="y2"))

# control, operational and mean
for xs, ys, ax in [(HOURS, T850_CONTROL, "y"), (HOURS, T500_CONTROL, "y"), (PRECIP_HOURS, PRECIP_CONTROL, "y2")]:
    fig.add_trace(go.Scatter(x=xs, y=ys, mode="lines", line=dict(color="#0000ff", width=3), yaxis=ax))
for xs, ys, ax in [(HRES_HOURS, T850_HRES, "y"), (HRES_HOURS, T500_HRES, "y"),
                   (HRES_PRECIP_HOURS, PRECIP_HRES, "y2")]:
    fig.add_trace(go.Scatter(x=xs, y=ys, mode="lines", line=dict(color="#000000", width=3.5), yaxis=ax))
for xs, ys, ax in [(HOURS, T850_MEAN, "y"), (HOURS, T500_MEAN, "y"), (PRECIP_HOURS, PRECIP_MEAN, "y2")]:
    fig.add_trace(go.Scatter(x=xs, y=ys, mode="lines", line=dict(color="#ff0000", width=5), yaxis=ax))

tickfont = dict(family=FONT, size=10, color="black")

shapes = []
for v in THICK_GRID:
    shapes.append(dict(type="line", xref="x", yref="y", x0=0, x1=144, y0=v, y1=v,
                       line=dict(color="#c0c0c0", width=2), layer="below"))
shapes.append(dict(type="line", xref="paper", yref="y", x0=px(36), x1=0, y0=-45, y1=-45,
                   line=dict(color="#c0c0c0", width=1)))

# legend lines
shapes.append(dict(type="line", xref="paper", yref="paper", x0=px(35), x1=px(65.5), y0=py(637.3), y1=py(637.3),
                   line=dict(color="#ff0000", width=4)))
shapes.append(dict(type="line", xref="paper", yref="paper", x0=px(225), x1=px(256), y0=py(637), y1=py(637),
                   line=dict(color="#0000ff", width=4)))
shapes.append(dict(type="line", xref="paper", yref="paper", x0=px(225), x1=px(256), y0=py(647), y1=py(647),
                   line=dict(color="#000000", width=4)))

annotations = []
for h, lab in zip(DATE_TICKS, DATE_LABELS):
    annotations.append(dict(x=h, xref="x", y=0, yref="paper", text=lab, textangle=-90, showarrow=False,
                            xanchor="center", yanchor="top", xshift=6.5, yshift=-1,
                            font=dict(family=FONT, size=10, color="black")))


def txt(x, y, s, size=10, anchor="left"):
    annotations.append(dict(x=px(x), y=py(y), xref="paper", yref="paper", text=s, showarrow=False,
                            xanchor=anchor, yanchor="middle",
                            font=dict(family=FONT, size=size, color="black")))


txt(31.5, 606.5, "(°C)", anchor="center")
txt(721.5, 606.5, "(mm)", anchor="center")
txt(58, 94.3, "Temp. 850hPa")
txt(58, 284, "Temp. 500hPa")
txt(57, 448, "Précipitations")
txt(73, 637.3, "Moyenne des scénarios")
txt(263, 637, "Run de contrôle")
txt(263, 647, "Run CEP/ECMWF")
txt(367, 652, "50 Perts.")
txt(28, 677, "<b>Diagramme ensembles ECMWF/CEP 0.4° sur 144h pour Lyon</b>", size=11.6)
txt(28, 692, "Températures 850hPa et 500hPa (°C) , précipitations (mm)")
txt(448, 676, "Ensemble ECMWF/CEP du 07/07/2023 - 06Z")
txt(448, 692, "<b>Copyright 2023 Meteociel.fr - ECMWF</b>", size=11.6)

# member colour swatches
for i in range(25):
    x0 = 429.7 + 11 * i
    shapes.append(dict(type="rect", xref="paper", yref="paper", x0=px(x0), x1=px(x0 + 10),
                       y0=py(651.3), y1=py(644.7), fillcolor=MEMBER_COLORS[i], line=dict(width=0)))
    shapes.append(dict(type="rect", xref="paper", yref="paper", x0=px(x0), x1=px(x0 + 10),
                       y0=py(658.3), y1=py(651.7), fillcolor=MEMBER_COLORS[25 + i], line=dict(width=0)))
    txt(x0 + 5, 639.5, "%02d" % (i + 1), size=8, anchor="center")
    txt(x0 + 5, 663.3, "%02d" % (i + 26), size=8, anchor="center")

# title box
shapes.append(dict(type="rect", xref="paper", yref="paper", x0=px(20.7), x1=px(440.7), y0=py(699.3),
                   y1=py(667.3), line=dict(color="black", width=1), fillcolor="rgba(0,0,0,0)"))

fig.update_layout(
    width=W, height=H,
    margin=dict(l=ML, r=MR, t=MT, b=MB, pad=0, autoexpand=False),
    paper_bgcolor="white", plot_bgcolor="rgba(0,0,0,0)",
    showlegend=False,
    xaxis=dict(range=[0, 144], tickvals=DATE_TICKS, showticklabels=False, showgrid=True,
               gridcolor="#c0c0c0", gridwidth=1.5, zeroline=False, showline=True, linecolor="black",
               linewidth=1.5, ticks="", fixedrange=True, automargin=False),
    yaxis=dict(range=[Y_MIN, Y_MAX], tickvals=LEFT_TICKS, ticktext=[str(v) for v in LEFT_TICKS],
               showgrid=True, gridcolor="#c4c4c4", gridwidth=1, zeroline=True, zerolinecolor="#a0a0a0",
               zerolinewidth=3, showline=True, linecolor="black", linewidth=1.5, ticks="",
               ticklabelstandoff=11, tickfont=tickfont, fixedrange=True, automargin=False),
    yaxis2=dict(range=[Y_MIN + PRECIP_OFFSET, Y_MAX + PRECIP_OFFSET], overlaying="y", side="right",
                tickvals=RIGHT_TICKS, ticktext=[str(v) for v in RIGHT_TICKS], showgrid=False,
                zeroline=False, showline=True, linecolor="black", linewidth=1.5, ticks="",
                ticklabelstandoff=15, tickfont=tickfont, fixedrange=True, automargin=False),
    shapes=shapes,
    annotations=annotations,
)

fig.write_html("out.html", config={"displayModeBar": False},
               post_script="document.body.style.margin='0px';document.body.style.padding='0px';")
